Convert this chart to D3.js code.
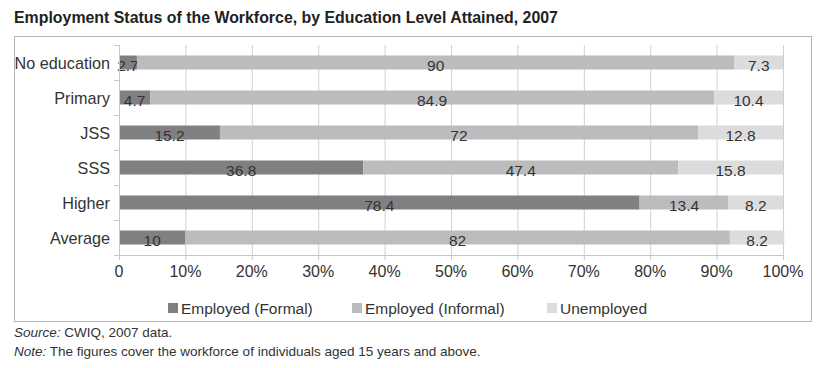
<!DOCTYPE html>
<html>
<head>
<meta charset="utf-8">
<script src="https://cdn.jsdelivr.net/npm/d3@7"></script>
<style>
  body { margin: 0; background: #fff; font-family: "Liberation Sans", Arial, sans-serif; }
  svg text { fill: #333; }
</style>
</head>
<body>
<div id="chart"></div>
<script>
// data
const categories = ["No education", "Primary", "JSS", "SSS", "Higher", "Average"];
const seriesNames = ["Employed (Formal)", "Employed (Informal)", "Unemployed"];
const formal = [2.7, 4.7, 15.2, 36.8, 78.4, 10];
const informal = [90, 84.9, 72, 47.4, 13.4, 82];
const unemployed = [7.3, 10.4, 12.8, 15.8, 8.2, 8.2];
const xTicks = [0, 10, 20, 30, 40, 50, 60, 70, 80, 90, 100];
const colors = ["#808083", "#bcbcbe", "#dcdcdd"];

const W = 824, H = 368;
const svg = d3.select("#chart").append("svg").attr("width", W).attr("height", H);

// title
svg.append("text")
  .attr("x", 14).attr("y", 23)
  .style("font-size", "15.9px").style("font-weight", "bold").style("fill", "#222")
  .text("Employment Status of the Workforce, by Education Level Attained, 2007");

// frame
svg.append("rect")
  .attr("x", 14.5).attr("y", 36.5).attr("width", 797).attr("height", 285)
  .attr("fill", "none").attr("stroke", "#b5b5b5");

// scales
const x = d3.scaleLinear().domain([0, 100]).range([119, 783]);
const y = d3.scaleBand().domain(categories).range([45, 255]).paddingInner(0.6).paddingOuter(0.3);

// gridlines
svg.append("g").selectAll("line")
  .data(xTicks.slice(1))
  .enter().append("line")
  .attr("x1", d => x(d) + 0.5).attr("x2", d => x(d) + 0.5)
  .attr("y1", 45).attr("y2", 255)
  .attr("stroke", "#d0d0d0");

// stacked rows
const rows = categories.map((c, i) => ({ cat: c, vals: [formal[i], informal[i], unemployed[i]] }));
const stack = d3.stack().keys([0, 1, 2]).value((d, k) => d.vals[k]);
const layers = stack(rows);

const layer = svg.append("g").selectAll("g")
  .data(layers)
  .enter().append("g")
  .attr("fill", (d, i) => colors[i]);

layer.selectAll("rect")
  .data(d => d)
  .enter().append("rect")
  .attr("x", d => x(d[0]))
  .attr("width", d => x(d[1]) - x(d[0]))
  .attr("y", d => y(d.data.cat))
  .attr("height", y.bandwidth());

layer.selectAll("text")
  .data((d, i) => d.map(p => ({ p, k: i })))
  .enter().append("text")
  .attr("x", d => (x(d.p[0]) + x(d.p[1])) / 2)
  .attr("y", d => y(d.p.data.cat) + y.bandwidth() + 1)
  .attr("text-anchor", "middle")
  .style("font-size", "15.5px")
  .text(d => d.p.data.vals[d.k]);

// y axis
const yAxis = svg.append("g")
  .attr("transform", "translate(119,0)");
yAxis.append("line")
  .attr("x1", 0.5).attr("x2", 0.5).attr("y1", 45).attr("y2", 255)
  .attr("stroke", "#c8c8c8");
const bounds = d3.range(7).map(i => 45 + i * y.step());
yAxis.selectAll(".tk")
  .data(bounds)
  .enter().append("line")
  .attr("x1", -5).attr("x2", 0.5)
  .attr("y1", d => d + 0.5).attr("y2", d => d + 0.5)
  .attr("stroke", "#c8c8c8");
yAxis.selectAll(".lbl")
  .data(categories)
  .enter().append("text")
  .attr("x", -9)
  .attr("y", d => y(d) + y.bandwidth() / 2 + 6)
  .attr("text-anchor", "end")
  .style("font-size", "16.2px")
  .text(d => d);

// x axis
const xAxis = svg.append("g");
xAxis.append("line")
  .attr("x1", x(0)).attr("x2", x(100)).attr("y1", 255.5).attr("y2", 255.5)
  .attr("stroke", "#c8c8c8");
xAxis.selectAll(".tk")
  .data(xTicks)
  .enter().append("line")
  .attr("x1", d => x(d) + 0.5).attr("x2", d => x(d) + 0.5)
  .attr("y1", 255).attr("y2", 260)
  .attr("stroke", "#c8c8c8");
xAxis.selectAll("text")
  .data(xTicks)
  .enter().append("text")
  .attr("x", d => x(d))
  .attr("y", 277)
  .attr("text-anchor", "middle")
  .style("font-size", "16px")
  .text(d => d === 0 ? "0" : d + "%");

// legend
const legendX = [168, 352, 547];
const legend = svg.append("g").selectAll("g")
  .data(seriesNames)
  .enter().append("g")
  .attr("transform", (d, i) => `translate(${legendX[i]},303)`);
legend.append("rect")
  .attr("width", 10).attr("height", 10)
  .attr("fill", (d, i) => colors[i]);
legend.append("text")
  .attr("x", 13).attr("y", 11)
  .style("font-size", "15.5px")
  .text(d => d);

// source and note
const src = svg.append("text").attr("x", 14).attr("y", 337).style("font-size", "13.5px");
src.append("tspan").style("font-style", "italic").text("Source:");
src.append("tspan").text(" CWIQ, 2007 data.");
const note = svg.append("text").attr("x", 14).attr("y", 356).style("font-size", "13.5px");
note.append("tspan").style("font-style", "italic").text("Note:");
note.append("tspan").text(" The figures cover the workforce of individuals aged 15 years and above.");
</script>
</body>
</html>
